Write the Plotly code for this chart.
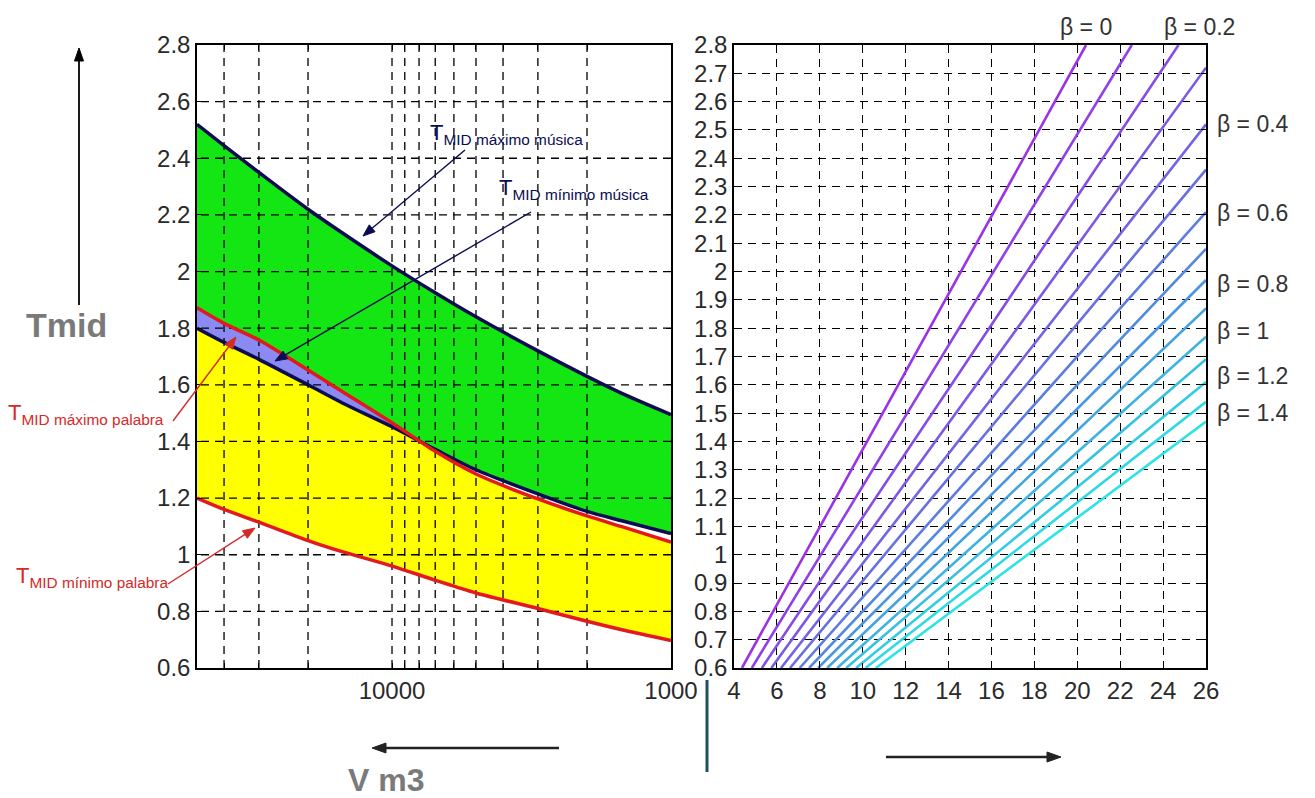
import numpy as np
import plotly.graph_objects as go

W, H = 1315, 798

# ---------------- data: left panel (Tmid vs volume) ----------------
volume = [50000, 40000, 30000, 20000, 15000, 10000, 7000, 5000, 3000, 2000, 1500, 1000]
t_max_musica = [2.52, 2.445, 2.35, 2.22, 2.135, 2.02, 1.925, 1.84, 1.72, 1.63, 1.57, 1.495]
t_min_musica = [1.80, 1.75, 1.69, 1.60, 1.535, 1.452, 1.372, 1.30, 1.215, 1.153, 1.12, 1.075]
t_max_palabra = [1.872, 1.817, 1.758, 1.652, 1.575, 1.466, 1.365, 1.285, 1.197, 1.137, 1.099, 1.045]
t_min_palabra = [1.20, 1.16, 1.115, 1.05, 1.01, 0.96, 0.91, 0.865, 0.81, 0.765, 0.735, 0.697]

left_x_tickvals = [1000, 10000]
left_x_ticktext = ["1000", "10000"]
left_x_minor = [2000, 3000, 4000, 5000, 6000, 7000, 8000, 9000, 20000, 30000, 40000]
left_y_tickvals = [0.6, 0.8, 1.0, 1.2, 1.4, 1.6, 1.8, 2.0, 2.2, 2.4, 2.6, 2.8]
left_y_ticktext = ["0.6", "0.8", "1", "1.2", "1.4", "1.6", "1.8", "2", "2.2", "2.4", "2.6", "2.8"]

# ---------------- data: right panel (beta lines) ----------------
beta = [0.0, 0.1, 0.2, 0.3, 0.4, 0.5, 0.6, 0.7, 0.8, 0.9, 1.0, 1.1, 1.2, 1.3, 1.4]
beta_x_start = [4.37, 4.83, 5.30, 5.74, 6.19, 6.61, 7.06, 7.50, 7.92, 8.34, 8.81, 9.23, 9.69, 10.13, 10.61]
beta_t_start = [0.6] * 15
beta_x_end = [20.41, 22.54, 24.72, 26, 26, 26, 26, 26, 26, 26, 26, 26, 26, 26, 26]
beta_t_end = [2.8, 2.8, 2.8, 2.72, 2.52, 2.36, 2.21, 2.08, 1.97, 1.87, 1.77, 1.69, 1.61, 1.54, 1.47]
beta_colors = ["#9b32e6", "#9040e6", "#864ce6", "#7c58e4", "#7264e2", "#6870e0", "#5e7ce0",
               "#5488de", "#4c96de", "#44a4de", "#3eb2e0", "#38c0e0", "#34cce2", "#30d8e4", "#2ee2e6"]

right_x_tickvals = [4, 6, 8, 10, 12, 14, 16, 18, 20, 22, 24, 26]
right_y_tickvals = [0.6, 0.7, 0.8, 0.9, 1.0, 1.1, 1.2, 1.3, 1.4, 1.5, 1.6, 1.7, 1.8, 1.9,
                    2.0, 2.1, 2.2, 2.3, 2.4, 2.5, 2.6, 2.7, 2.8]
right_y_ticktext = ["0.6", "0.7", "0.8", "0.9", "1", "1.1", "1.2", "1.3", "1.4", "1.5", "1.6",
                    "1.7", "1.8", "1.9", "2", "2.1", "2.2", "2.3", "2.4", "2.5", "2.6", "2.7", "2.8"]

beta_label_right = [("β = 0.4", 2.52), ("β = 0.6", 2.205), ("β = 0.8", 1.955),
                    ("β = 1", 1.79), ("β = 1.2", 1.632), ("β = 1.4", 1.50)]
beta_label_top = [("β = 0", 20.4), ("β = 0.2", 25.7)]

# ---------------- style ----------------
TICKFONT = dict(family="Liberation Sans Narrow, Arial Narrow, Liberation Sans, Arial", size=24, color="#2a2a2a")
NAVY = "#0c0c52"
RED = "#e3191c"
ANN_RED = "#d42a2a"
GREEN = "#14e614"
YELLOW = "#ffff00"
PURPLE = "#8a8af2"
DASH = "8px,6px"
SMOOTH = dict(shape="spline", smoothing=0.8)


def px2paper(px, py):
    return px / W, 1 - py / H


fig = go.Figure()


def band(lower, upper, color):
    fig.add_trace(go.Scatter(x=volume, y=lower, mode="lines", line=dict(width=0, **SMOOTH),
                             xaxis="x", yaxis="y", hoverinfo="skip"))
    fig.add_trace(go.Scatter(x=volume, y=upper, mode="lines", line=dict(width=0, **SMOOTH),
                             fill="tonexty", fillcolor=color, xaxis="x", yaxis="y", hoverinfo="skip"))


band(t_min_musica, t_max_musica, GREEN)
band(t_min_palabra, t_max_palabra, YELLOW)
band(t_min_musica, np.maximum(np.array(t_max_palabra), np.array(t_min_musica)), PURPLE)

# ---- dashed grid of left panel, drawn above the fills ----
vmin, vmax = min(volume), max(volume)
ylo, yhi = left_y_tickvals[0], left_y_tickvals[-1]
gx, gy = [], []
for v in left_x_minor + [10000]:
    gx += [v, v, None]
    gy += [ylo, yhi, None]
for t in left_y_tickvals[1:-1]:
    gx += [vmin, vmax, None]
    gy += [t, t, None]
fig.add_trace(go.Scatter(x=gx, y=gy, mode="lines", line=dict(color="black", width=1.3, dash=DASH),
                         xaxis="x", yaxis="y", hoverinfo="skip"))

# ---- curves (left panel) ----
for yy, col in [(t_max_musica, NAVY), (t_min_musica, NAVY), (t_max_palabra, RED), (t_min_palabra, RED)]:
    fig.add_trace(go.Scatter(x=volume, y=yy, mode="lines", line=dict(color=col, width=3.5, **SMOOTH),
                             xaxis="x", yaxis="y"))

# ---- beta lines (right panel) ----
for i, b in enumerate(beta):
    fig.add_trace(go.Scatter(x=[beta_x_start[i], beta_x_end[i]], y=[beta_t_start[i], beta_t_end[i]],
                             mode="lines", line=dict(color=beta_colors[i], width=2.6),
                             xaxis="x2", yaxis="y2", name=f"β = {b}"))

ydom = [1 - 668 / H, 1 - 45 / H]
axis_common = dict(showline=True, linecolor="black", linewidth=1.5, mirror="ticks", automargin=False,
                   ticks="inside", ticklen=5, tickcolor="black", tickfont=TICKFONT, zeroline=False)

fig.update_layout(
    width=W, height=H, margin=dict(l=0, r=0, t=0, b=0, pad=0), autosize=False,
    paper_bgcolor="white", plot_bgcolor="white", showlegend=False,
    xaxis=dict(domain=[197 / W, 671 / W], type="log",
               range=[np.log10(vmax), np.log10(vmin)],
               tickmode="array", tickvals=left_x_tickvals, ticktext=left_x_ticktext,
               showgrid=False,
               minor=dict(tickvals=left_x_minor, ticks="inside", ticklen=5, tickcolor="black", showgrid=False),
               **axis_common),
    yaxis=dict(domain=ydom, range=[ylo, yhi], tickmode="array",
               tickvals=left_y_tickvals, ticktext=left_y_ticktext, showgrid=False, **axis_common),
    xaxis2=dict(domain=[734 / W, 1206 / W], range=[4, 26], tickmode="array",
                tickvals=right_x_tickvals, showgrid=True, gridcolor="black", gridwidth=1.2,
                griddash=DASH, anchor="y2", **axis_common),
    yaxis2=dict(domain=ydom, range=[0.6, 2.8], tickmode="array", tickvals=right_y_tickvals,
                ticktext=right_y_ticktext, showgrid=True, gridcolor="black", gridwidth=1.2,
                griddash=DASH, anchor="x2", **axis_common),
)

ann = []
shapes = []

sub_font = dict(family="Liberation Sans, Arial", size=22)
for txt, (px, py), col in [
    ("T<sub>MID máximo música</sub>", (428, 134), NAVY),
    ("T<sub>MID mínimo música</sub>", (497, 189), NAVY),
    ("T<sub>MID máximo palabra</sub>", (6, 414), ANN_RED),
    ("T<sub>MID mínimo palabra</sub>", (14, 577), ANN_RED),
]:
    x, y = px2paper(px, py)
    ann.append(dict(text=txt, x=x, y=y, xref="paper", yref="paper", xanchor="left", yanchor="middle",
                    showarrow=False, font=dict(sub_font, color=col)))

# arrows (tail -> head) in pixel positions, drawn as shapes
for (tx, ty), (hx, hy), col, w, hl, hw in [
    ((465, 150), (363, 236), NAVY, 1.4, 12, 4.5),
    ((531, 212), (275, 361), NAVY, 1.4, 12, 4.5),
    ((173, 421), (236, 337), ANN_RED, 1.4, 12, 4.5),
    ((168, 584), (255, 528), ANN_RED, 1.4, 12, 4.5),
    ((79, 305), (79, 48), "black", 1.8, 13, 4.5),
    ((559, 748), (372, 748), "#222222", 2.4, 14, 5),
    ((886, 757), (1061, 757), "#222222", 2.4, 14, 5),
]:
    d = np.array([hx - tx, hy - ty], dtype=float)
    d /= np.linalg.norm(d)
    n = np.array([-d[1], d[0]])
    base = np.array([hx, hy]) - hl * d
    p1 = base + hw * n
    p2 = base - hw * n
    sx0, sy0 = px2paper(tx, ty)
    sx1, sy1 = px2paper(*(base + 2 * d))
    shapes.append(dict(type="line", xref="paper", yref="paper", x0=sx0, y0=sy0, x1=sx1, y1=sy1,
                       line=dict(color=col, width=w)))
    pts = [px2paper(hx, hy), px2paper(*p1), px2paper(*p2)]
    path = "M {} {} L {} {} L {} {} Z".format(pts[0][0], pts[0][1], pts[1][0], pts[1][1], pts[2][0], pts[2][1])
    shapes.append(dict(type="path", xref="paper", yref="paper", path=path,
                       fillcolor=col, line=dict(color=col, width=1)))

for txt, (px, py), size in [("Tmid", (66, 325), 34), ("V m3", (386, 780), 32)]:
    x, y = px2paper(px, py)
    ann.append(dict(text=f"<b>{txt}</b>", x=x, y=y, xref="paper", yref="paper", showarrow=False,
                    xanchor="center", yanchor="middle",
                    font=dict(family="Liberation Sans, Arial", size=size, color="#7a7a7a")))

beta_font = dict(family="Liberation Sans, Arial", size=23, color="#333333")
for txt, t in beta_label_right:
    ann.append(dict(text=txt, x=26, y=t, xref="x2", yref="y2", xanchor="left", yanchor="middle",
                    xshift=9, showarrow=False, font=beta_font))
for txt, xv in beta_label_top:
    ann.append(dict(text=txt, x=xv, y=2.8, xref="x2", yref="y2", xanchor="center", yanchor="middle",
                    yshift=18, showarrow=False, font=beta_font))

x0, y0 = px2paper(707, 680)
x1, y1 = px2paper(707, 772)
shapes.append(dict(type="line", xref="paper", yref="paper", x0=x0, y0=y0, x1=x1, y1=y1,
                   line=dict(color="#1d5060", width=3)))

fig.update_layout(annotations=ann, shapes=shapes)
fig.write_html("out.html", config={"displayModeBar": False},
               post_script="document.body.style.margin='0';")
